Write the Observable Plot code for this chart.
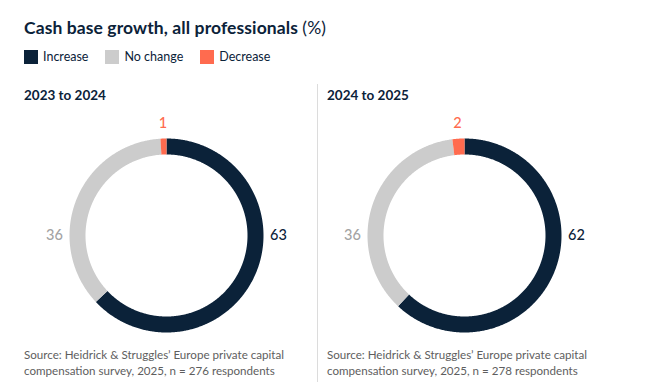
<!DOCTYPE html>
<html><head><meta charset="utf-8">
<script src="https://cdn.jsdelivr.net/npm/d3@7"></script>
<script src="https://cdn.jsdelivr.net/npm/@observablehq/plot@0.6"></script>
<style>
body{margin:0;background:#fff;font-family:Lato,"Noto Sans",sans-serif;color:#0b2239;}
#root{position:relative;width:646px;height:388px;overflow:hidden;background:#fff;}
.title{position:absolute;left:24px;top:17px;font-size:17.5px;font-weight:700;white-space:nowrap;letter-spacing:0.1px;}
.title span{font-weight:400;}
.legend{position:absolute;left:24px;top:49px;display:flex;font-size:12.5px;color:#0b2239;}
.legend .item{display:flex;align-items:center;margin-right:17px;}
.legend .sw{width:14px;height:14px;margin-right:5px;}
.sub{position:absolute;top:87px;font-size:13.5px;font-weight:700;white-space:nowrap;}
.src{position:absolute;top:347px;font-size:11.6px;line-height:16px;color:#5e5e5e;white-space:nowrap;}
.divider{position:absolute;left:317px;top:84px;width:1px;height:298px;background:#dcdcdc;z-index:5;}
.chart{position:absolute;top:115px;}
.chart svg{background:transparent !important;overflow:visible;}
</style></head><body><div id="root"></div>
<script>
const categories = ["Increase", "No change", "Decrease"];
const palette = ["#0b2239", "#cccccc", "#ff6b4f"];
const labelPalette = ["#0b2239", "#a3a3a3", "#ff6b4f"];
const panelTitles = ["2023 to 2024", "2024 to 2025"];
const values2023to2024 = [63, 36, 1];
const values2024to2025 = [62, 36, 2];
const respondents = [276, 278];
const mainTitle = "Cash base growth, all professionals";
const sourceText = "Source: Heidrick & Struggles\u2019 Europe private capital";

const root = document.getElementById("root");
const title = document.createElement("div");
title.className = "title";
title.innerHTML = mainTitle + " <span>(%)</span>";
root.appendChild(title);

const legend = document.createElement("div");
legend.className = "legend";
categories.forEach((c, i) => {
  const it = document.createElement("div");
  it.className = "item";
  it.innerHTML = `<div class="sw" style="background:${palette[i]}"></div><div>${c}</div>`;
  legend.appendChild(it);
});
root.appendChild(legend);

const div = document.createElement("div");
div.className = "divider";
root.appendChild(div);

const R = 97, r0 = 81, labelR = 112, W = 290, H = 240;
const panels = [
  {values: values2023to2024, center: 166, textLeft: 24},
  {values: values2024to2025, center: 464, textLeft: 327}
];

function donut(values) {
  const total = d3.sum(values);
  let acc = 0;
  const pts = [], labels = [];
  values.forEach((v, i) => {
    const a0 = acc / total * 2 * Math.PI;
    acc += v;
    const a1 = acc / total * 2 * Math.PI;
    const n = Math.max(4, Math.ceil((a1 - a0) / (Math.PI / 360)));
    for (let k = 0; k <= n; k++) {
      const a = a0 + (a1 - a0) * k / n;
      pts.push({category: categories[i], x: Math.sin(a), y: Math.cos(a)});
    }
    for (let k = n; k >= 0; k--) {
      const a = a0 + (a1 - a0) * k / n;
      pts.push({category: categories[i], x: Math.sin(a) * r0 / R, y: Math.cos(a) * r0 / R});
    }
    let la = (a0 + a1) / 2;
    if (a0 <= Math.PI / 2 && a1 >= Math.PI / 2) la = Math.PI / 2;
    else if (a0 <= 1.5 * Math.PI && a1 >= 1.5 * Math.PI) la = 1.5 * Math.PI;
    labels.push({category: categories[i], value: v, x: Math.sin(la) * labelR / R, y: Math.cos(la) * labelR / R});
  });
  return {pts, labels};
}

panels.forEach((p, pi) => {
  const sub = document.createElement("div");
  sub.className = "sub";
  sub.style.left = p.textLeft + "px";
  sub.textContent = panelTitles[pi];
  root.appendChild(sub);

  const {pts, labels} = donut(p.values);
  const chart = Plot.plot({
    width: W, height: H, margin: 0,
    x: {domain: [-W / 2 / R, W / 2 / R], axis: null},
    y: {domain: [-H / 2 / R, H / 2 / R], axis: null},
    color: {domain: categories, range: palette},
    style: {background: "transparent", fontFamily: "Lato, sans-serif", overflow: "visible"},
    marks: [
      Plot.line(pts, {x: "x", y: "y", z: "category", fill: "category", stroke: "none", curve: "linear-closed"}),
      ...categories.map((c, i) => Plot.text(labels.filter(d => d.category === c), {
        x: "x", y: "y", text: d => String(d.value), fill: labelPalette[i], fontSize: 14.5, fontWeight: 500
      }))
    ]
  });
  const wrap = document.createElement("div");
  wrap.className = "chart";
  wrap.style.left = (p.center - W / 2) + "px";
  wrap.appendChild(chart);
  root.appendChild(wrap);

  const src = document.createElement("div");
  src.className = "src";
  src.style.left = p.textLeft + "px";
  src.innerHTML = sourceText + "<br>compensation survey, 2025, n = " + respondents[pi] + " respondents";
  root.appendChild(src);
});
</script>
</body></html>
